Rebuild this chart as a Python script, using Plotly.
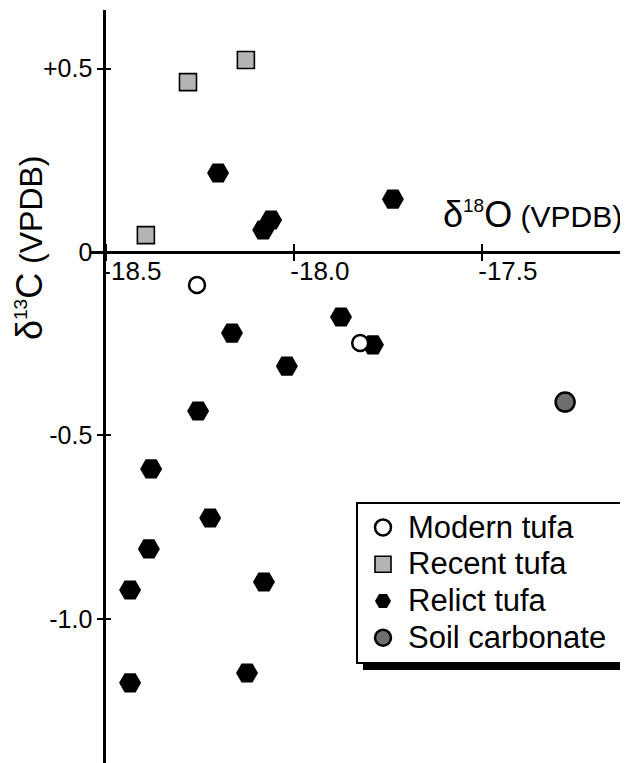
import plotly.graph_objects as go

# ---- data ----
modern_x = [-18.258, -17.824]
modern_y = [-0.090, -0.248]

recent_x = [-18.394, -18.282, -18.128]
recent_y = [0.046, 0.463, 0.523]

relict_x = [-18.202, -18.061, -18.082, -17.737, -17.875, -17.790, -18.165, -18.019,
            -18.255, -18.380, -18.223, -18.386, -18.436, -18.080, -18.436, -18.125]
relict_y = [0.215, 0.087, 0.060, 0.144, -0.177, -0.253, -0.221, -0.311,
            -0.433, -0.591, -0.725, -0.809, -0.921, -0.899, -1.174, -1.147]

soil_x = [-17.279]
soil_y = [-0.409]

series_names = ["Modern tufa", "Recent tufa", "Relict tufa", "Soil carbonate"]

x_tickvals = [-18.5, -18.0, -17.5]
x_ticktext = ["-18.5", "-18.0", "-17.5"]
y_tickvals = [0.5, 0.0, -0.5, -1.0]
y_ticktext = ["+0.5", "0", "-0.5", "-1.0"]

# ---- layout geometry ----
# the page body adds an 8px margin, so the figure is 8px smaller than the window
OFF = 8
W, H = 628 - OFF, 763 - OFF
ML, MR, MT, MB = 90 - OFF, 0, 10 - OFF, 0
PW, PH = W - ML - MR, H - MT - MB
XR = [-18.5426, -17.1117]
YR = [-1.3924, 0.6594]
FONT = "Liberation Sans, Arial, Helvetica, sans-serif"

def px_x(px):  # window pixel -> paper fraction
    return (px - OFF - ML) / PW

def px_y(py):
    return (H - MB - (py - OFF)) / PH

def leg_name(s, pad=""):
    return '<span style="font-size:31px">' + s + pad + '</span>'

x_axis_pos = (0 - YR[0]) / (YR[1] - YR[0])
y_axis_pos = (-18.505 - XR[0]) / (XR[1] - XR[0])

fig = go.Figure()

fig.add_trace(go.Scatter(
    x=recent_x, y=recent_y, mode="markers", name=leg_name(series_names[1]),
    legendrank=2,
    marker=dict(symbol="square", size=17, color="#b4b4b4",
                line=dict(color="black", width=1.6))))
fig.add_trace(go.Scatter(
    x=relict_x, y=relict_y, mode="markers", name=leg_name(series_names[2]),
    legendrank=3,
    marker=dict(symbol="hexagon2", size=22, color="black",
                line=dict(color="black", width=0))))
fig.add_trace(go.Scatter(
    x=modern_x, y=modern_y, mode="markers", name=leg_name(series_names[0]),
    legendrank=1,
    marker=dict(symbol="circle", size=16, color="white",
                line=dict(color="black", width=2.5))))
fig.add_trace(go.Scatter(
    x=soil_x, y=soil_y, mode="markers",
    name=leg_name(series_names[3], "\u00a0"), legendrank=4,
    marker=dict(symbol="circle", size=19, color="#6e6e6e",
                line=dict(color="black", width=2.5))))
# helper (invisible) trace to activate the inner-tick axes
fig.add_trace(go.Scatter(
    x=soil_x, y=soil_y, xaxis="x2", yaxis="y2", mode="markers",
    marker=dict(opacity=0), showlegend=False, hoverinfo="skip"))

axis_common = dict(showgrid=False, zeroline=False)

fig.update_layout(
    width=W, height=H,
    margin=dict(l=ML, r=MR, t=MT, b=MB, autoexpand=False),
    paper_bgcolor="white", plot_bgcolor="white",
    font=dict(family=FONT, color="black"),
    xaxis=dict(range=XR, anchor="free", position=x_axis_pos,
               showline=True, linecolor="black", linewidth=2.5,
               ticks="outside", ticklen=7, tickwidth=2, tickcolor="black",
               tickvals=x_tickvals, ticktext=x_ticktext,
               ticklabelposition="outside right", ticklabelstandoff=-5,
               ticklabelshift=-6,
               tickfont=dict(size=26, family=FONT), **axis_common),
    xaxis2=dict(range=XR, overlaying="x", anchor="free", position=x_axis_pos,
                showline=False, ticks="inside", ticklen=8, tickwidth=2,
                tickcolor="black", tickvals=x_tickvals, showticklabels=False,
                **axis_common),
    yaxis=dict(range=YR, anchor="free", position=y_axis_pos,
               showline=True, linecolor="black", linewidth=2.5,
               ticks="outside", ticklen=6, tickwidth=2, tickcolor="black",
               tickvals=y_tickvals, ticktext=y_ticktext,
               tickfont=dict(size=25, family=FONT), **axis_common),
    yaxis2=dict(range=YR, overlaying="y", anchor="free", position=y_axis_pos,
                showline=False, ticks="inside", ticklen=6, tickwidth=2,
                tickcolor="black", tickvals=y_tickvals, showticklabels=False,
                **axis_common),
    legend=dict(x=px_x(356), y=px_y(502), xanchor="left", yanchor="top",
                bgcolor="white", bordercolor="black", borderwidth=2,
                font=dict(size=26, family=FONT), itemwidth=40,
                tracegroupgap=0),
    showlegend=True,
)

# legend drop shadow
fig.add_shape(type="rect", xref="paper", yref="paper",
              x0=px_x(363), x1=px_x(640), y0=px_y(670), y1=px_y(509),
              fillcolor="black", line=dict(width=0), layer="above")

# axis titles
fig.add_annotation(
    xref="paper", yref="paper", x=px_x(441), y=px_y(214),
    xanchor="left", yanchor="middle", showarrow=False,
    text='δ<sup><span style="font-size:19px">18</span></sup>O'
         '<span style="font-size:30px"> (VPDB)</span>',
    font=dict(family=FONT, color="black", size=36))
fig.add_annotation(
    xref="paper", yref="paper", x=px_x(29), y=px_y(248),
    xanchor="center", yanchor="middle", showarrow=False, textangle=-90,
    text='δ<sup><span style="font-size:19px">13</span></sup>C'
         '<span style="font-size:32px"> (VPDB)</span>',
    font=dict(family=FONT, color="black", size=36))

fig.write_html("out.html")
